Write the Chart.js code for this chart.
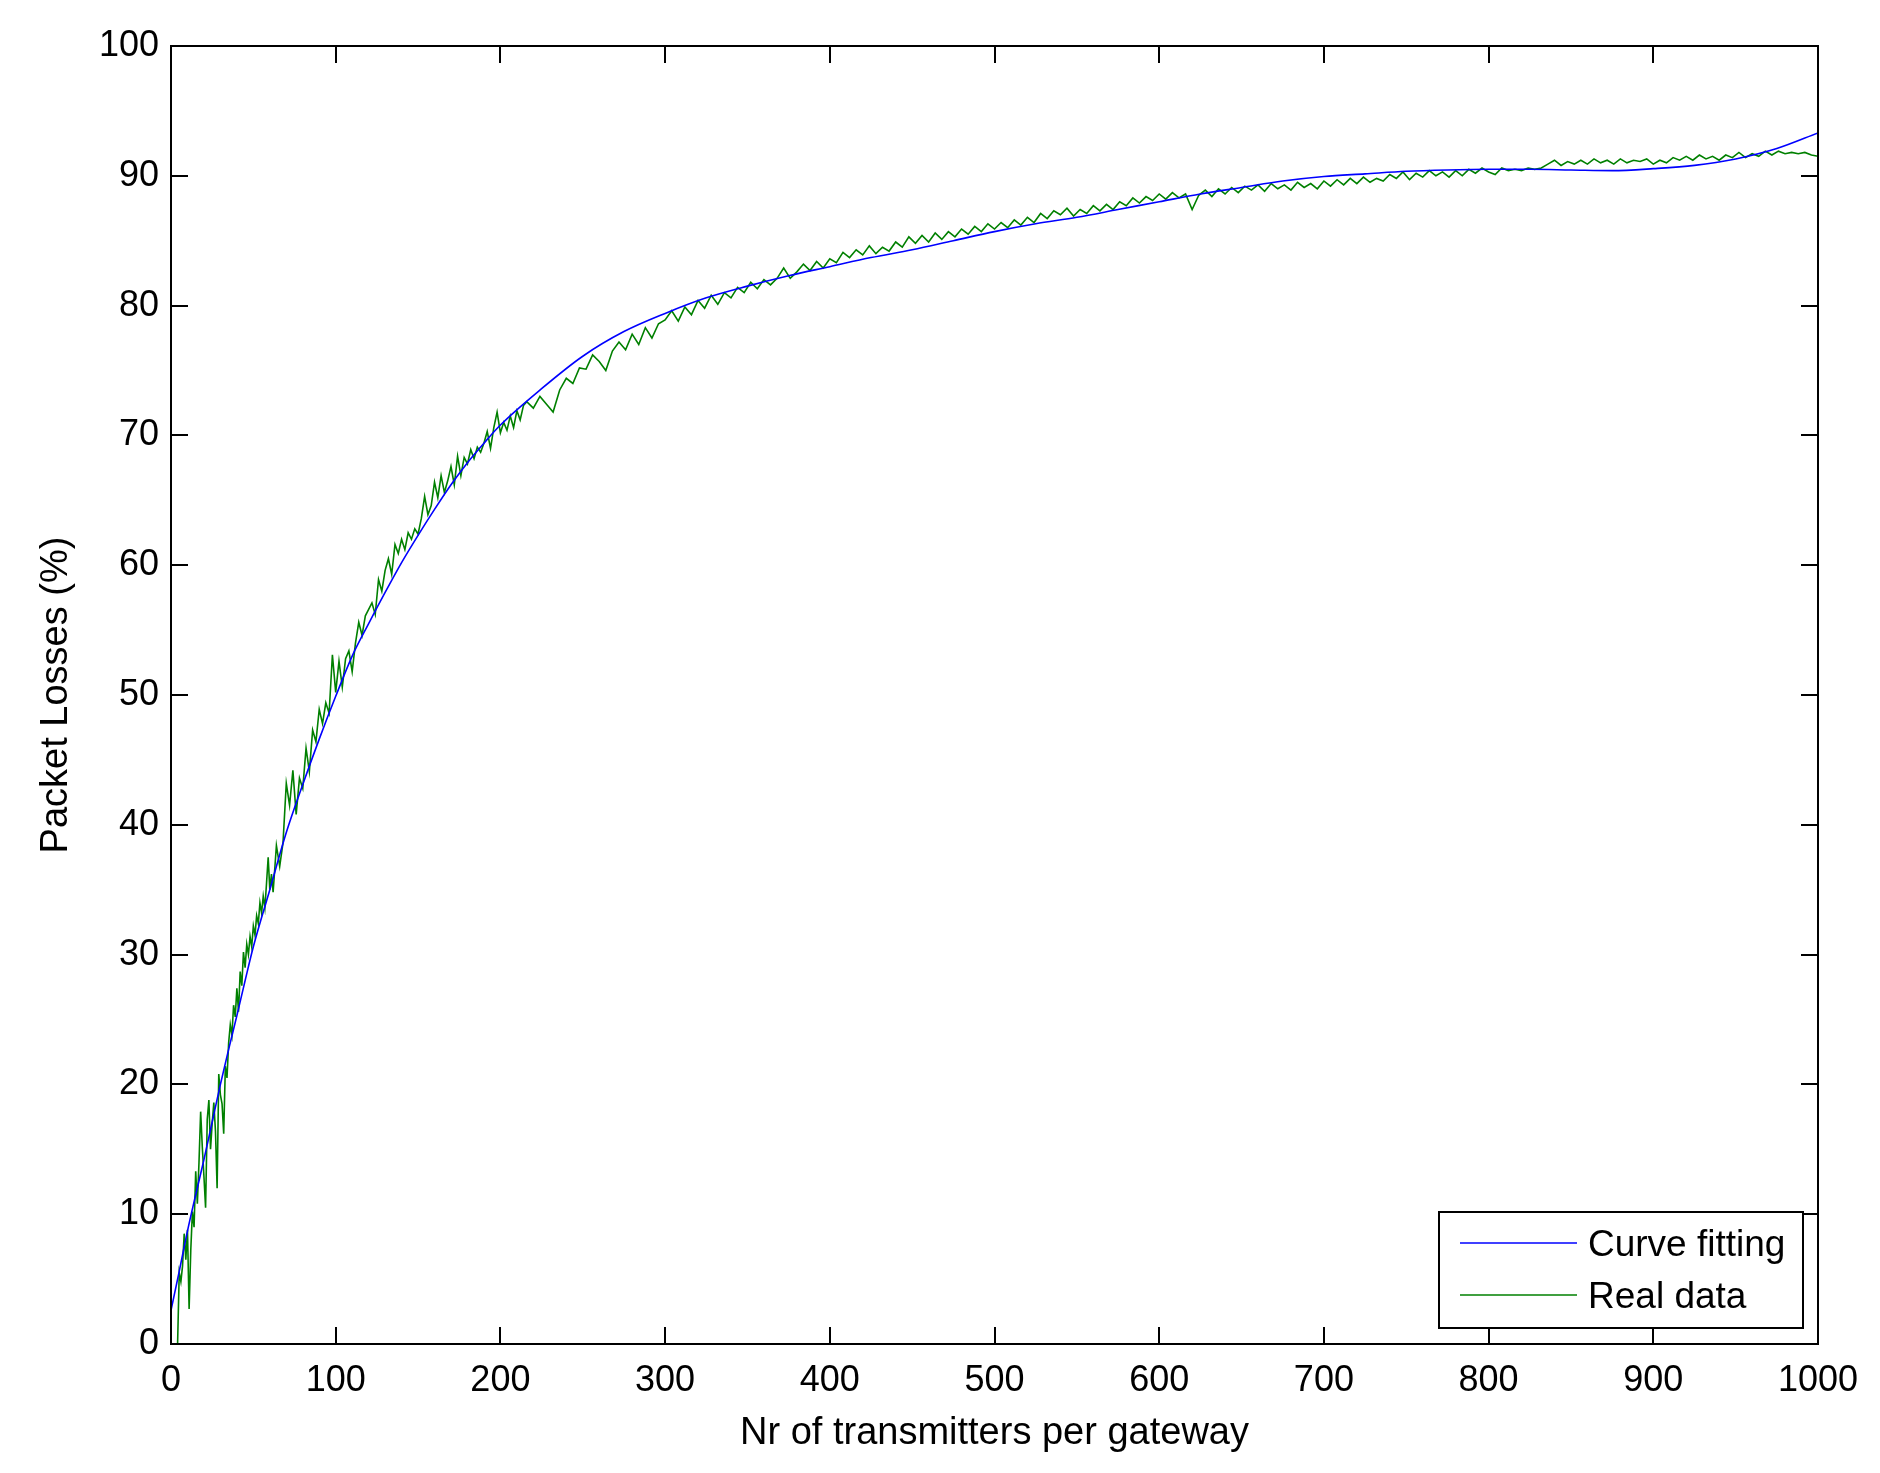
<!DOCTYPE html>
<html lang="en">
<head>
    <meta charset="UTF-8">
    <title>Packet Losses</title>
    <script src="https://cdn.jsdelivr.net/npm/chart.js@4.4.1/dist/chart.umd.min.js"></script>
    <style>
        body { margin: 0; background: #fff; }
    </style>
</head>
<body>
    <canvas id="lossChart" width="1880" height="1473"></canvas>
    <script>
        // axis ticks
        const xTicks = [0, 100, 200, 300, 400, 500, 600, 700, 800, 900, 1000];
        const yTicks = [0, 10, 20, 30, 40, 50, 60, 70, 80, 90, 100];

        // curve fitting (blue)
        const fitX = [0, 5, 10, 15, 20, 25, 30, 35, 40, 45, 50, 60, 70, 80, 90, 100, 110, 120, 130, 140,
            150, 160, 170, 180, 190, 200, 225, 250, 275, 300, 325, 350, 375, 400, 425, 450, 475, 500,
            525, 550, 575, 600, 625, 650, 675, 700, 725, 750, 775, 800, 825, 850, 875, 900, 925, 950, 975, 1000];
        const fitY = [2.6, 5.6, 8.7, 11.5, 14.2, 17.1, 20.0, 22.7, 25.3, 28.0, 30.6, 35.0, 39.4, 43.1, 46.6, 49.9, 53.0, 55.5, 57.9, 60.2,
            62.3, 64.3, 66.2, 67.9, 69.4, 70.8, 73.6, 76.1, 78.0, 79.4, 80.6, 81.5, 82.3, 83.0, 83.7, 84.3, 85.0, 85.7,
            86.3, 86.8, 87.4, 88.0, 88.6, 89.1, 89.6, 89.95, 90.15, 90.35, 90.45, 90.5, 90.5, 90.45, 90.4, 90.55, 90.8, 91.3, 92.1, 93.3];

        // real data (green)
        const realX = [
            4, 5, 6, 7, 8, 9, 10, 11, 12, 13, 14, 15, 16, 17, 18, 19, 20, 21, 22, 23,
            24, 25, 26, 27, 28, 29, 30, 31, 32, 33, 34, 35, 36, 37, 38, 39, 40, 41, 42, 43,
            44, 45, 46, 47, 48, 49, 50, 51, 52, 53, 54, 55, 56, 57, 58, 59, 60, 61, 62,
            64, 66, 68, 70, 72, 74, 76, 78, 80, 82, 84, 86, 88, 90, 92, 94, 96, 98, 100, 102,
            104, 106, 108, 110, 112, 114, 116, 118, 120, 122, 124, 126, 128, 130, 132, 134, 136, 138, 140, 142,
            144, 146, 148, 150, 152, 154, 156, 158, 160, 162, 164, 166, 168, 170, 172, 174, 176, 178, 180, 182,
            184, 186, 188, 190, 192, 194, 196, 198, 200, 202, 204, 206, 208, 210, 212, 214,
            216, 220, 224, 228, 232, 236, 240, 244, 248, 252,
            256, 260, 264, 268, 272, 276, 280, 284, 288, 292,
            296, 300, 304, 308, 312, 316, 320, 324, 328, 332,
            336, 340, 344, 348, 352, 356, 360, 364, 368, 372,
            376, 380, 384, 388, 392, 396, 400, 404, 408, 412,
            416, 420, 424, 428, 432, 436, 440, 444, 448, 452,
            456, 460, 464, 468, 472, 476, 480, 484, 488, 492,
            496, 500, 504, 508, 512, 516, 520, 524, 528, 532,
            536, 540, 544, 548, 552, 556, 560, 564, 568, 572,
            576, 580, 584, 588, 592, 596, 600, 604, 608, 612,
            616, 620, 624, 628, 632, 636, 640, 644, 648, 652,
            656, 660, 664, 668, 672, 676, 680, 684, 688, 692,
            696, 700, 704, 708, 712, 716, 720, 724, 728, 732,
            736, 740, 744, 748, 752, 756, 760, 764, 768, 772,
            776, 780, 784, 788, 792, 796, 800, 804, 808, 812,
            816, 820, 824, 828, 832, 836, 840, 844, 848, 852,
            856, 860, 864, 868, 872, 876, 880, 884, 888, 892,
            896, 900, 904, 908, 912, 916, 920, 924, 928, 932,
            936, 940, 944, 948, 952, 956, 960, 964, 968, 972,
            976, 980, 984, 988, 992, 996, 1000
        ];
        const realY = [
            0, 5.5, 4.8, 6.0, 8.5, 6.5, 8.8, 2.7, 7.2, 10.2, 9.0, 13.3, 10.8, 14.0, 17.9, 15.2, 12.9, 10.5, 17.3, 18.8,
            15.0, 17.0, 18.6, 16.4, 12.0, 20.8, 19.2, 18.5, 16.2, 21.4, 20.5, 23.2, 24.6, 23.8, 26.1, 25.2, 27.4, 25.6, 28.7, 27.6,
            30.2, 29.0, 30.8, 30.0, 31.4, 30.6, 32.2, 31.5, 33.0, 32.4, 34.0, 33.2, 34.5, 33.6, 35.5, 37.5, 35.0, 36.2, 34.8,
            38.4, 36.8, 38.6, 43.2, 41.5, 44.2, 40.8, 43.6, 42.8, 45.9, 44.1, 47.3, 46.4, 48.9, 47.8, 49.4, 48.6, 53.1, 50.2, 52.6,
            50.6, 52.8, 53.4, 51.8, 54.0, 55.6, 54.6, 56.1, 56.6, 57.1, 56.2, 58.9, 58.0, 59.6, 60.5, 59.3, 61.6, 60.9, 62.0, 61.2,
            62.5, 62.0, 62.8, 62.4, 63.6, 65.3, 63.9, 64.6, 66.4, 65.2, 66.9, 65.6, 66.5, 67.6, 66.2, 68.4, 66.9, 68.3, 67.8, 68.9,
            68.2, 69.1, 68.7, 69.4, 70.3, 69.0, 70.6, 71.8, 70.2, 71.0, 70.4, 71.5, 70.6, 71.9, 71.2, 72.3,
            72.6, 72.1, 73.0, 72.4, 71.8, 73.5, 74.4, 74.0, 75.2, 75.1,
            76.2, 75.7, 75.0, 76.5, 77.2, 76.6, 77.8, 77.0, 78.3, 77.5,
            78.6, 78.9, 79.6, 78.8, 79.9, 79.3, 80.4, 79.8, 80.8, 80.1,
            81.0, 80.6, 81.4, 81.0, 81.8, 81.3, 82.0, 81.6, 82.1, 82.9,
            82.1, 82.6, 83.2, 82.7, 83.4, 82.9, 83.6, 83.3, 84.1, 83.7,
            84.3, 83.9, 84.6, 84.0, 84.5, 84.2, 84.9, 84.5, 85.3, 84.8,
            85.4, 84.9, 85.6, 85.1, 85.7, 85.3, 85.9, 85.5, 86.1, 85.7,
            86.3, 85.9, 86.4, 86.0, 86.6, 86.2, 86.8, 86.4, 87.1, 86.7,
            87.3, 87.0, 87.5, 86.9, 87.4, 87.1, 87.7, 87.3, 87.8, 87.4,
            88.0, 87.7, 88.3, 87.9, 88.4, 88.1, 88.6, 88.2, 88.7, 88.3,
            88.6, 87.4, 88.5, 88.9, 88.4, 89.0, 88.6, 89.1, 88.7, 89.2,
            88.9, 89.3, 88.8, 89.4, 89.0, 89.3, 88.9, 89.5, 89.1, 89.4,
            89.0, 89.6, 89.2, 89.7, 89.3, 89.8, 89.4, 89.9, 89.5, 89.8,
            89.6, 90.1, 89.8, 90.3, 89.7, 90.2, 89.9, 90.4, 90.0, 90.3,
            89.9, 90.4, 90.0, 90.5, 90.2, 90.6, 90.3, 90.1, 90.6, 90.4,
            90.5, 90.4, 90.6, 90.5, 90.6, 90.9, 91.2, 90.8, 91.1, 90.9,
            91.2, 90.9, 91.3, 91.0, 91.2, 90.9, 91.3, 91.0, 91.2, 91.1,
            91.3, 90.9, 91.2, 91.0, 91.4, 91.2, 91.5, 91.2, 91.6, 91.3,
            91.5, 91.2, 91.6, 91.4, 91.8, 91.4, 91.7, 91.5, 91.9, 91.6,
            91.9, 91.7, 91.8, 91.7, 91.8, 91.6, 91.5
        ];

        const FONT = '"Liberation Sans", Arial, Helvetica, sans-serif';
        Chart.defaults.font.family = FONT;
        Chart.defaults.color = '#000';

        // matlab style box, inward ticks and legend inside the axes
        const matlabFrame = {
            id: 'matlabFrame',
            afterDatasetsDraw(chart) {
                const ctx = chart.ctx;
                const a = chart.chartArea;
                const xs = chart.scales.x;
                const ys = chart.scales.y;
                const tick = 17;

                ctx.save();
                ctx.strokeStyle = '#000';
                ctx.lineWidth = 2;
                ctx.beginPath();
                xTicks.forEach(v => {
                    const px = Math.round(xs.getPixelForValue(v));
                    ctx.moveTo(px, a.bottom); ctx.lineTo(px, a.bottom - tick);
                    ctx.moveTo(px, a.top); ctx.lineTo(px, a.top + tick);
                });
                yTicks.forEach(v => {
                    const py = Math.round(ys.getPixelForValue(v));
                    ctx.moveTo(a.left, py); ctx.lineTo(a.left + tick, py);
                    ctx.moveTo(a.right, py); ctx.lineTo(a.right - tick, py);
                });
                ctx.stroke();
                ctx.strokeRect(a.left, a.top, a.right - a.left, a.bottom - a.top);

                // legend
                const lw = 364, lh = 116;
                const lx = a.right - 15 - lw;
                const ly = a.bottom - 16 - lh;
                ctx.fillStyle = '#fff';
                ctx.fillRect(lx, ly, lw, lh);
                ctx.strokeRect(lx, ly, lw, lh);
                ctx.font = '37px ' + FONT;
                ctx.textBaseline = 'alphabetic';
                chart.data.datasets.forEach((ds, i) => {
                    const yy = ly + 31 + i * 52;
                    ctx.strokeStyle = ds.borderColor;
                    ctx.lineWidth = 1.5;
                    ctx.beginPath();
                    ctx.moveTo(lx + 21, yy);
                    ctx.lineTo(lx + 138, yy);
                    ctx.stroke();
                    ctx.fillStyle = '#000';
                    ctx.fillText(ds.label, lx + 149, yy + 13);
                });
                ctx.restore();
            }
        };

        const ctx = document.getElementById('lossChart').getContext('2d');
        const lossChart = new Chart(ctx, {
            type: 'line',
            data: {
                datasets: [{
                    label: 'Curve fitting',
                    data: fitX.map((x, i) => ({ x: x, y: fitY[i] })),
                    borderColor: '#0000ff',
                    borderWidth: 1.6,
                    pointRadius: 0,
                    cubicInterpolationMode: 'monotone',
                    fill: false
                }, {
                    label: 'Real data',
                    data: realX.map((x, i) => ({ x: x, y: realY[i] })),
                    borderColor: '#008000',
                    borderWidth: 1.6,
                    pointRadius: 0,
                    tension: 0,
                    fill: false
                }]
            },
            options: {
                responsive: false,
                animation: false,
                devicePixelRatio: 1,
                layout: {
                    padding: { top: 46, right: 62, bottom: 0, left: 0 }
                },
                plugins: {
                    legend: { display: false },
                    tooltip: { enabled: false }
                },
                scales: {
                    x: {
                        type: 'linear',
                        min: 0,
                        max: 1000,
                        afterFit: s => { s.height = 129; },
                        afterBuildTicks: s => { s.ticks = xTicks.map(v => ({ value: v })); },
                        grid: { display: false },
                        border: { display: false },
                        ticks: {
                            font: { size: 36 },
                            color: '#000',
                            padding: 7,
                            maxRotation: 0,
                            autoSkip: false,
                            callback: v => String(v)
                        },
                        title: {
                            display: true,
                            text: 'Nr of transmitters per gateway',
                            font: { size: 38 },
                            color: '#000',
                            padding: { top: 0, bottom: 17 }
                        }
                    },
                    y: {
                        type: 'linear',
                        min: 0,
                        max: 100,
                        afterFit: s => { s.width = 171; },
                        afterBuildTicks: s => { s.ticks = yTicks.map(v => ({ value: v })); },
                        grid: { display: false },
                        border: { display: false },
                        ticks: {
                            font: { size: 36 },
                            color: '#000',
                            padding: 4,
                            autoSkip: false,
                            callback: v => String(v)
                        },
                        title: {
                            display: true,
                            text: 'Packet Losses (%)',
                            font: { size: 38 },
                            color: '#000',
                            padding: { top: 34, bottom: 0 }
                        }
                    }
                }
            },
            plugins: [matlabFrame]
        });
    </script>
</body>
</html>
